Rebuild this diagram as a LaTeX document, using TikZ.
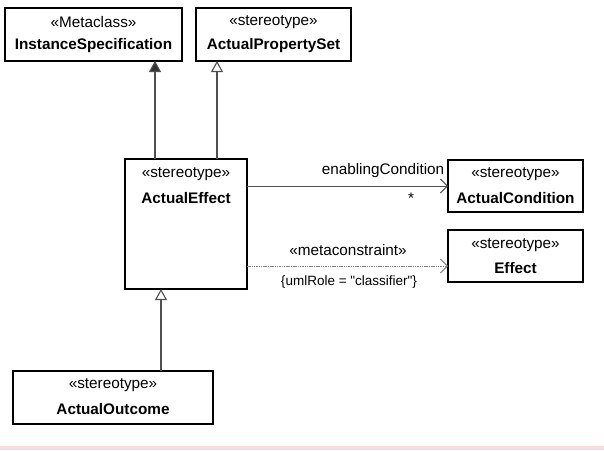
\documentclass[tikz,border=0pt]{standalone}
\usepackage{fontspec}
\setmainfont{Liberation Sans}
\usetikzlibrary{arrows.meta}
\definecolor{linegray}{HTML}{505050}
\definecolor{bandpink}{HTML}{F8DCDE}
\begin{document}
\begin{tikzpicture}[x=1pt,y=-1pt,
  cls/.style={draw=black, line width=1.3pt, fill=white, inner sep=0pt},
  lbl/.style={font=\fontsize{15.3}{17}\selectfont, inner sep=0pt},
  gen/.style={draw=linegray, line width=1.1pt, -{Triangle[open, length=11pt, width=12pt]}},
  genfill/.style={draw=linegray, line width=1.1pt, -{Triangle[length=11pt, width=12pt, fill=black!80]}},
  assoc/.style={draw=linegray, line width=1pt, -{Straight Barb[length=7pt, width=14pt]}},
  dep/.style={draw=linegray!70, line width=1pt, dash pattern=on 1.5pt off 0.8pt, -{Straight Barb[length=7pt, width=14pt]}}
]
\useasboundingbox (0,0) rectangle (604,450);
\fill[bandpink] (0,446) rectangle (604,450);

% boxes
\draw[cls] (5,8) rectangle (182,61);
\draw[cls] (196,8) rectangle (351,61);
\draw[cls] (125,159) rectangle (247,289);
\draw[cls] (448,160) rectangle (583,212);
\draw[cls] (448,230) rectangle (583,282);
\draw[cls] (13,371) rectangle (213,424);

% named anchors
\coordinate (is) at (155,61);
\coordinate (aps) at (217,61);
\coordinate (aeL) at (155,159);
\coordinate (aeR) at (217,159);
\coordinate (aeB) at (161,289);
\coordinate (ao) at (161,371);
\coordinate (aeC) at (247,186);
\coordinate (ac) at (448,186);
\coordinate (aeE) at (247,266);
\coordinate (ef) at (448,266);

% texts
\node[lbl] (t1) at (93.5,22) {«Metaclass»};
\node[lbl] (t2) at (93.5,46) {\bfseries InstanceSpecification};
\node[lbl] (t3) at (273.5,22) {«stereotype»};
\node[lbl] (t4) at (273.5,46) {\bfseries ActualPropertySet};
\node[lbl] (t5) at (186,174) {«stereotype»};
\node[lbl] (t6) at (186,198) {\bfseries ActualEffect};
\node[lbl] (t7) at (515.5,174) {«stereotype»};
\node[lbl] (t8) at (515.5,198) {\bfseries ActualCondition};
\node[lbl] (t9) at (515.5,245) {«stereotype»};
\node[lbl] (t10) at (515.5,268) {\bfseries Effect};
\node[lbl] (t11) at (113,385) {«stereotype»};
\node[lbl] (t12) at (113,409) {\bfseries ActualOutcome};

\node[lbl] (l1) at (383,171) {enablingCondition};
\node[lbl] (l2) at (411,198) {*};
\node[lbl] (l3) at (348,250) {«metaconstraint»};
\node[lbl, font=\fontsize{13.5}{15}\selectfont] (l4) at (349,282) {\{umlRole = \textquotedbl classifier\textquotedbl\}};

% connectors
\draw[genfill] (aeL) -- (is);
\draw[gen] (aeR) -- (aps);
\draw[gen] (ao) -- (aeB);
\draw[assoc] (aeC) -- (ac);
\draw[dep] (aeE) -- (ef);
\end{tikzpicture}
\end{document}
